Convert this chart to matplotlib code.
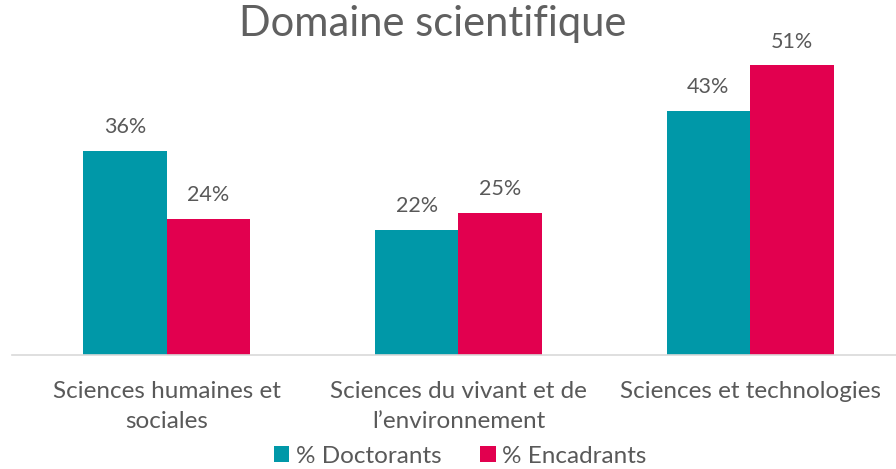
import numpy as np
import matplotlib.pyplot as plt

categories = ['Sciences humaines et\nsociales', 'Sciences du vivant et de\nl\u2019environnement', 'Sciences et technologies']
doctorants = [36, 22, 43]
encadrants = [24, 25, 51]
series_names = ['% Doctorants', '% Encadrants']

TEAL = '#0098A8'
PINK = '#E2004F'
GREY = '#595959'

plt.rcParams['font.family'] = ['Lato', 'DejaVu Sans']

fig = plt.figure(figsize=(8.96, 4.69), dpi=100)
ax = fig.add_axes([12 / 896, 1 - 355 / 469, 884 / 896, 339 / 469])

x = np.arange(len(categories))
w = 0.286
b1 = ax.bar(x - w / 2, doctorants, w, color=TEAL, label=series_names[0])
b2 = ax.bar(x + w / 2, encadrants, w, color=PINK, label=series_names[1])

for bars in (b1, b2):
    for rect in bars:
        h = rect.get_height()
        ax.annotate(f'{h:.0f}%', (rect.get_x() + rect.get_width() / 2, h),
                    xytext=(0, 10), textcoords='offset points',
                    ha='center', va='bottom', fontsize=15.5, color=GREY)

ax.set_xlim(-0.53, 2.5)
ax.set_ylim(0, 59.7)
ax.set_yticks([])
ax.set_xticks(x)
ax.set_xticklabels(categories, fontsize=17.5, color=GREY, linespacing=1.5)
ax.tick_params(axis='x', length=0, pad=19)
for s in ['top', 'right', 'left']:
    ax.spines[s].set_visible(False)
ax.spines['bottom'].set_color('#D9D9D9')
ax.spines['bottom'].set_linewidth(1.2)

fig.text(433 / 896, 1 - 24 / 469, 'Domaine scientifique', ha='center', va='center',
         fontsize=30, color='#606060', fontweight='normal')

fig.legend(handles=[b1, b2], loc='center', bbox_to_anchor=(460 / 896, 1 - 456 / 469),
           ncol=2, frameon=False, fontsize=17.5, labelcolor=GREY,
           handlelength=0.65, handleheight=0.65, handletextpad=0.25, columnspacing=1.6)

fig.savefig('out.png', dpi=100)
